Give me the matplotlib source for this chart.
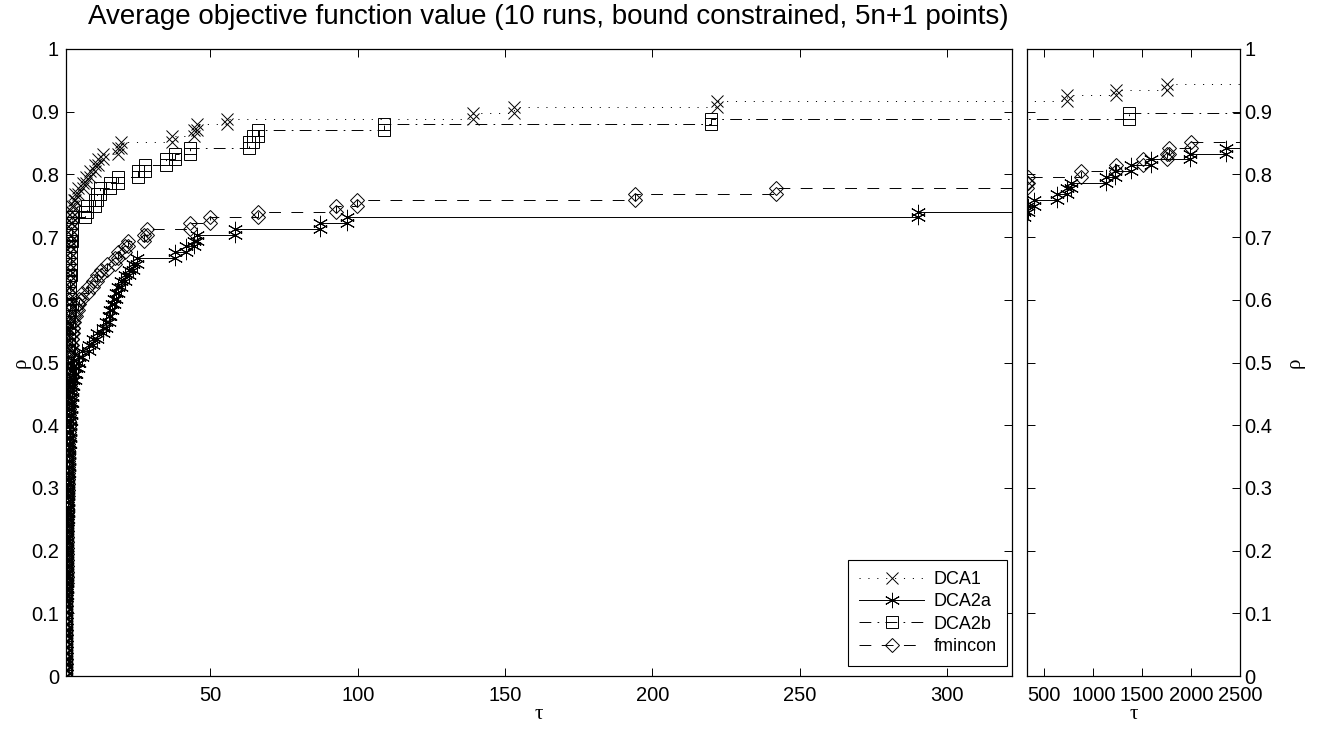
import matplotlib
matplotlib.use("Agg")
import matplotlib.pyplot as plt

plt.rcParams['font.family'] = ['Liberation Sans', 'DejaVu Sans']
plt.rcParams['lines.scale_dashes'] = False

n_problems = 108
x_break = 322
x_max = 2500

# performance ratios (sorted) at which each solver solves one more problem
dca1 = [1.00, 1.00, 1.01, 1.01, 1.02, 1.02, 1.03, 1.03, 1.04, 1.04,
        1.05, 1.05, 1.06, 1.06, 1.07, 1.07, 1.08, 1.08, 1.09, 1.10,
        1.10, 1.11, 1.12, 1.12, 1.13, 1.14, 1.15, 1.16, 1.17, 1.18,
        1.19, 1.20, 1.21, 1.22, 1.23, 1.24, 1.25, 1.27, 1.28, 1.30,
        1.31, 1.33, 1.35, 1.37, 1.39, 1.41, 1.43, 1.45, 1.48, 1.50,
        1.53, 1.56, 1.59, 1.62, 1.65, 1.68, 1.72, 1.76, 1.80, 1.84,
        1.88, 1.92, 1.96, 2.00, 2.05, 2.10, 2.15, 2.20, 2.25, 2.30,
        2.35, 2.40, 2.45, 2.50, 2.55, 2.60, 2.70, 2.80, 2.90, 3.00,
        3.2, 3.6, 4.2, 5.0, 6.8, 7.8, 9.2, 10.7, 11.8, 13.5,
        18.8, 19.5, 37.0, 44.5, 45.5, 55.5, 139, 153, 222, 730,
        1230, 1750]

dca2a = [1.00, 1.01, 1.02, 1.03, 1.04, 1.05, 1.06, 1.07, 1.08, 1.09,
         1.10, 1.12, 1.14, 1.16, 1.18, 1.20, 1.22, 1.24, 1.26, 1.28,
         1.30, 1.33, 1.36, 1.39, 1.42, 1.45, 1.48, 1.51, 1.55, 1.59,
         1.63, 1.67, 1.71, 1.75, 1.80, 1.85, 1.90, 1.95, 2.00, 2.10,
         2.20, 2.30, 2.40, 2.50, 2.60, 2.70, 2.80, 2.90, 3.00,
         3.2, 3.5, 4.0, 4.5, 5.0, 5.3, 6.5, 8.7, 10.0, 11.5,
         13.5, 14.7, 15.5, 16.0, 16.5, 17.2, 17.8, 18.5, 19.5, 21.0,
         22.5, 23.8, 25.0, 38.0, 41.8, 44.5, 45.5, 58.4, 87.3, 96.5,
         290, 330, 397, 633, 735, 773, 1133, 1218, 1389, 1594,
         1985, 2360]

dca2b = [1.00, 1.00, 1.00, 1.01, 1.01, 1.02, 1.02, 1.03, 1.03, 1.04,
         1.04, 1.05, 1.06, 1.06, 1.07, 1.08, 1.08, 1.09, 1.10, 1.11,
         1.12, 1.12, 1.13, 1.14, 1.15, 1.16, 1.17, 1.18, 1.19, 1.20,
         1.21, 1.22, 1.24, 1.25, 1.26, 1.28, 1.29, 1.31, 1.33, 1.35,
         1.37, 1.39, 1.41, 1.43, 1.46, 1.48, 1.51, 1.54, 1.57, 1.60,
         1.63, 1.66, 1.70, 1.74, 1.78, 1.82, 1.86, 1.90, 1.95, 2.00,
         2.05, 2.10, 2.15, 2.20, 2.25, 2.30, 2.36, 2.42, 2.48, 2.54,
         2.60, 2.66, 2.72, 2.78, 2.84, 2.90, 2.95, 3.00, 3.10,
         7.5, 8.2, 11.0, 11.6, 12.5, 15.8, 18.7, 25.5, 27.7, 35.0,
         38.0, 43.0, 63.0, 64.5, 66.0, 109, 220, 1360]

fmincon = [1.00, 1.01, 1.02, 1.03, 1.04, 1.05, 1.06, 1.07, 1.08, 1.09,
           1.10, 1.11, 1.12, 1.13, 1.14, 1.16, 1.18, 1.20, 1.22, 1.24,
           1.26, 1.28, 1.30, 1.32, 1.34, 1.36, 1.38, 1.40, 1.43, 1.46,
           1.49, 1.52, 1.55, 1.58, 1.61, 1.64, 1.68, 1.72, 1.76, 1.80,
           1.84, 1.88, 1.92, 1.97, 2.02, 2.07, 2.12, 2.18, 2.24, 2.30,
           2.36, 2.42, 2.50, 2.58, 2.66, 2.75, 2.85, 2.95, 3.10, 3.25,
           3.50, 3.8, 4.5, 5.0, 5.5, 6.5, 8.5, 10.0, 11.5, 13.0,
           15.0, 17.5, 18.5, 21.0, 22.0, 27.5, 28.5, 43.0, 49.9, 66.3,
           92.5, 99.8, 194, 242, 326, 332, 876, 1227, 1505, 1750,
           1770, 2003]

names = ['DCA1', 'DCA2a', 'DCA2b', 'fmincon']
series = [dca1, dca2a, dca2b, fmincon]
markers = ['x', (6, 2, 0), 's', 'D']
msizes = [8, 11, 8, 7.5]
styles = [(0, (0.8, 5.6)), '-', (0, (8.5, 4.5, 1.2, 4.5)), (0, (8.5, 7.5))]
ytick_labels = ['0', '0.1', '0.2', '0.3', '0.4', '0.5', '0.6', '0.7',
                '0.8', '0.9', '1']


def stairs(ratios):
    xs, ys = [], []
    prev = 0.0
    for k, t in enumerate(ratios, 1):
        rho = k / n_problems
        xs += [t, t]
        ys += [prev, rho]
        prev = rho
    return xs, ys


fig = plt.figure(figsize=(13.17, 7.29), dpi=100)
ax1 = fig.add_axes([66 / 1317, 53 / 729, 946 / 1317, 627 / 729])
ax2 = fig.add_axes([1027 / 1317, 53 / 729, 213 / 1317, 627 / 729])

for ax in (ax1, ax2):
    for name, r, m, ms, ls in zip(names, series, markers, msizes, styles):
        xs, ys = stairs(r)
        ax.plot(xs, ys, color='black', linestyle=ls, linewidth=0.7,
                marker=m, markersize=ms, markerfacecolor='none',
                markeredgecolor='black', markeredgewidth=0.7, label=name)
        ax.plot([xs[-1], x_max], [ys[-1], ys[-1]], color='black',
                linestyle=ls, linewidth=0.7)
    ax.set_ylim(0, 1)
    ax.set_yticks([i / 10 for i in range(11)])
    ax.set_yticklabels(ytick_labels)
    ax.tick_params(direction='in', length=6, width=0.7, labelsize=14.5,
                   top=True, right=True, left=True, bottom=True, pad=5)
    ax.tick_params(axis='x', pad=7)
    for s in ax.spines.values():
        s.set_linewidth(0.9)

ax1.set_xlim(1, x_break)
ax1.set_xticks([50, 100, 150, 200, 250, 300])
ax1.set_xlabel('τ', family='Liberation Serif', fontsize=15, labelpad=0)
ax1.set_ylabel('ρ', family='Liberation Serif', fontsize=15, labelpad=0)

ax2.set_xlim(x_break, x_max)
ax2.set_xticks([500, 1000, 1500, 2000, 2500])
ax2.yaxis.tick_right()
ax2.tick_params(left=True, right=True, labelleft=False, labelright=True)
ax2.tick_params(axis='y', pad=3)
ax2.yaxis.set_label_position('right')
ax2.set_xlabel('τ', family='Liberation Serif', fontsize=15, labelpad=0)
ax2.set_ylabel('ρ', family='Liberation Serif', fontsize=15, labelpad=10)

handles, labels = ax1.get_legend_handles_labels()
leg = ax1.legend(handles, names,
                 loc='lower right', bbox_to_anchor=(0.995, 0.016),
                 borderaxespad=0, fontsize=13, numpoints=1, handlelength=3.6,
                 fancybox=False, framealpha=1, edgecolor='black',
                 borderpad=0.6, labelspacing=0.3, handletextpad=0.5)
leg.get_frame().set_linewidth(0.8)

fig.text(548 / 1317, 1 - 17 / 729,
         'Average objective function value (10 runs, bound constrained, 5n+1 points)',
         ha='center', va='center', fontsize=20)

fig.savefig('out.png', dpi=100)
